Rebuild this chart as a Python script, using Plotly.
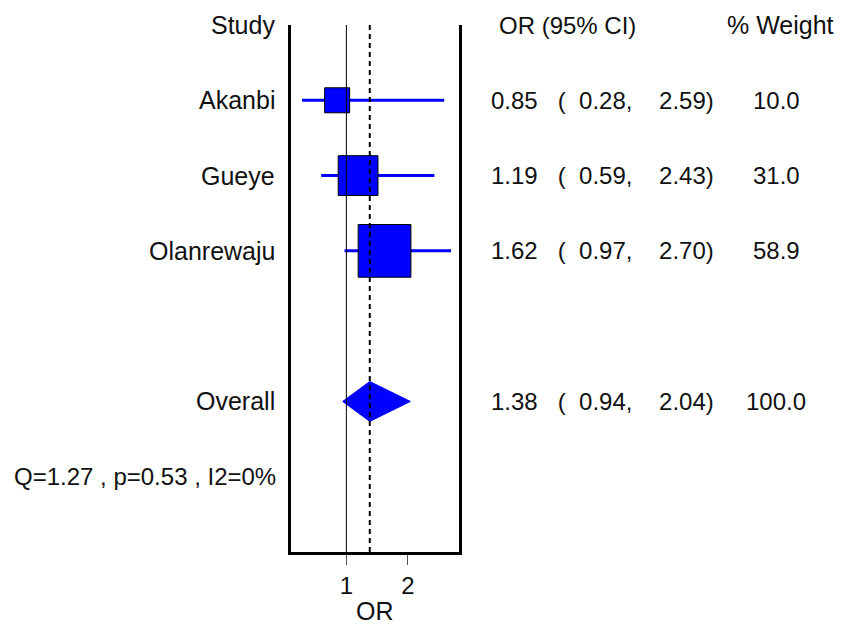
import plotly.graph_objects as go

# ---- data ----
studies = ["Akanbi", "Gueye", "Olanrewaju"]
or_est = [0.85, 1.19, 1.62]
ci_lo = [0.28, 0.59, 0.97]
ci_hi = [2.59, 2.43, 2.70]
weights = [10.0, 31.0, 58.9]
overall_label = "Overall"
overall_est = 1.38
overall_lo = 0.94
overall_hi = 2.04
overall_weight = 100.0
het_text = "Q=1.27 , p=0.53 , I2=0%"
null_value = 1
x_ticks = [1, 2]
x_title = "OR"
headers = ["Study", "OR (95% CI)", "% Weight"]

# ---- layout constants ----
W, H = 846, 629
L, R, T, B = 291, 387, 25, 77
PW = W - L - R
study_rows = [1, 2, 3]
overall_row = 5
het_row = 6
FONT = "Liberation Sans, Arial, sans-serif"
FS_NUM = 24
FS_WORD = 25
BLUE = "#0000FF"
NB = "\u00a0"


def px(xpix):
    return (xpix - L) / PW


fig = go.Figure()

# CI lines
for r, lo, hi in zip(study_rows, ci_lo, ci_hi):
    fig.add_trace(go.Scatter(x=[lo, hi], y=[r, r], mode="lines",
                             line=dict(color=BLUE, width=3), hoverinfo="skip",
                             showlegend=False))

# squares, size grows with sqrt(weight)
sizes = [5.6 + 6.14 * (w ** 0.5) for w in weights]
fig.add_trace(go.Scatter(x=or_est, y=study_rows, mode="markers",
                         marker=dict(symbol="square", size=sizes, color=BLUE,
                                     opacity=1,
                                     line=dict(color="black", width=1)),
                         showlegend=False))

# overall diamond
hh = 0.265
fig.add_trace(go.Scatter(
    x=[overall_lo, overall_est, overall_hi, overall_est, overall_lo],
    y=[overall_row, overall_row - hh, overall_row, overall_row + hh, overall_row],
    mode="lines", fill="toself", fillcolor=BLUE,
    line=dict(color=BLUE, width=1), showlegend=False))

# reference lines
fig.add_shape(type="line", xref="x", yref="paper", x0=null_value, x1=null_value,
              y0=0, y1=1, line=dict(color="black", width=1))
fig.add_shape(type="line", xref="x", yref="paper", x0=overall_est, x1=overall_est,
              y0=0, y1=1, line=dict(color="black", width=2, dash="5px,4px"))


def ann(x, y, text, xanchor, size):
    fig.add_annotation(x=x, y=y, xref="paper", yref="y", text=text,
                       showarrow=False, xanchor=xanchor, yanchor="middle",
                       font=dict(family=FONT, size=size, color="#111111"))


# headers
ann(px(277), 0, headers[0], "right", FS_WORD)
ann(px(497), 0, headers[1], "left", FS_NUM)
ann(px(780), 0, headers[2], "center", FS_WORD)


def ci_str(e, lo, hi):
    return f"{e:.2f}{NB*3}({NB*2}{lo:.2f},{NB*4}{hi:.2f})"


for r, s, e, lo, hi, w in zip(study_rows, studies, or_est, ci_lo, ci_hi, weights):
    ann(px(277), r, s, "right", FS_WORD)
    ann(px(489), r, ci_str(e, lo, hi), "left", FS_NUM)
    ann(px(776), r, f"{w:.1f}", "center", FS_NUM)

ann(px(277), overall_row, overall_label, "right", FS_WORD)
ann(px(489), overall_row, ci_str(overall_est, overall_lo, overall_hi), "left", FS_NUM)
ann(px(776), overall_row, f"{overall_weight:.1f}", "center", FS_NUM)

ann(px(12), het_row, het_text, "left", FS_NUM)

# axis title
fig.add_annotation(x=0.5, y=-0.112, xref="paper", yref="paper", text=x_title,
                   showarrow=False, xanchor="center", yanchor="middle",
                   font=dict(family=FONT, size=FS_WORD, color="#111111"))

fig.update_xaxes(range=[0.10, 2.83], tickvals=x_ticks, ticktext=[str(t) for t in x_ticks],
                 ticks="outside", ticklen=10, tickwidth=1, tickcolor="#555555",
                 showline=True, linewidth=3, linecolor="black", mirror=False,
                 showgrid=False, zeroline=False,
                 tickfont=dict(family=FONT, size=FS_NUM, color="#111111"),
                 fixedrange=True)
fig.update_yaxes(range=[7, 0], showticklabels=False, ticks="", showgrid=False,
                 zeroline=False, showline=True, linewidth=3, linecolor="black",
                 mirror=True, fixedrange=True)

fig.update_layout(width=W, height=H, margin=dict(l=L, r=R, t=T, b=B),
                  plot_bgcolor="white", paper_bgcolor="white", showlegend=False,
                  hovermode=False,
                  font=dict(family=FONT, size=FS_NUM, color="#111111"))

fig.write_html("out.html", config={"displayModeBar": False, "staticPlot": True},
               post_script="document.body.style.margin='0';")
